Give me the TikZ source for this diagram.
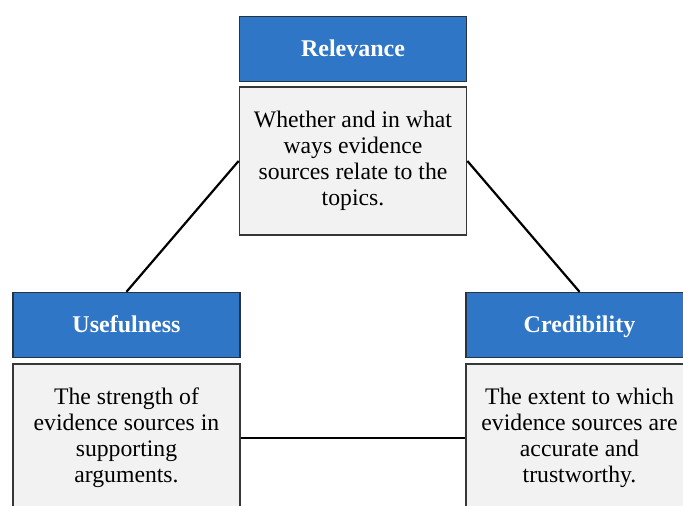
\documentclass[tikz,border=0pt]{standalone}
\usepackage{fontspec}
\setmainfont{Liberation Serif}
\definecolor{headblue}{RGB}{48,118,198}
\definecolor{headedge}{RGB}{40,50,65}
\definecolor{bodyfill}{RGB}{243,242,242}
\definecolor{bodyedge}{RGB}{55,55,55}
\begin{document}
\begin{tikzpicture}[x=1pt,y=-1pt,
  header/.style={rectangle, fill=headblue, draw=headedge, line width=1.4pt,
    minimum width=227pt, minimum height=65pt, inner sep=0pt,
    text height=18pt, text depth=3pt,
    text=white, font=\fontsize{24}{28}\selectfont\bfseries},
  bodybox/.style={rectangle, fill=bodyfill, draw=bodyedge, line width=1.8pt,
    minimum width=227pt, minimum height=148pt, inner sep=0pt,
    align=center, font=\fontsize{23.7}{26}\selectfont},
  link/.style={draw=black, line width=2.2pt}]
  \useasboundingbox (0,0) rectangle (683,506);
  \clip (0,0) rectangle (683,506);
  \fill[white] (0,0) rectangle (683,506);

  % top pair
  \node[header]  (relH) at (353,49)  {Relevance};
  \node[bodybox] (relB) at (353,161) {Whether and in what\\ways evidence\\sources relate to the\\topics.};

  % lower left pair
  \node[header]  (useH) at (126.5,325) {Usefulness};
  \node[bodybox] (useB) at (126.5,438) {The strength of\\evidence sources in\\supporting\\arguments.};

  % lower right pair
  \node[header]  (creH) at (579.5,325) {Credibility};
  \node[bodybox] (creB) at (579.5,438) {The extent to which\\evidence sources are\\accurate and\\trustworthy.};

  % connectors
  \draw[link] (relB.west) -- (useH.north);
  \draw[link] (relB.east) -- (creH.north);
  \draw[link] (useB.east) -- (creB.west);
\end{tikzpicture}
\end{document}
